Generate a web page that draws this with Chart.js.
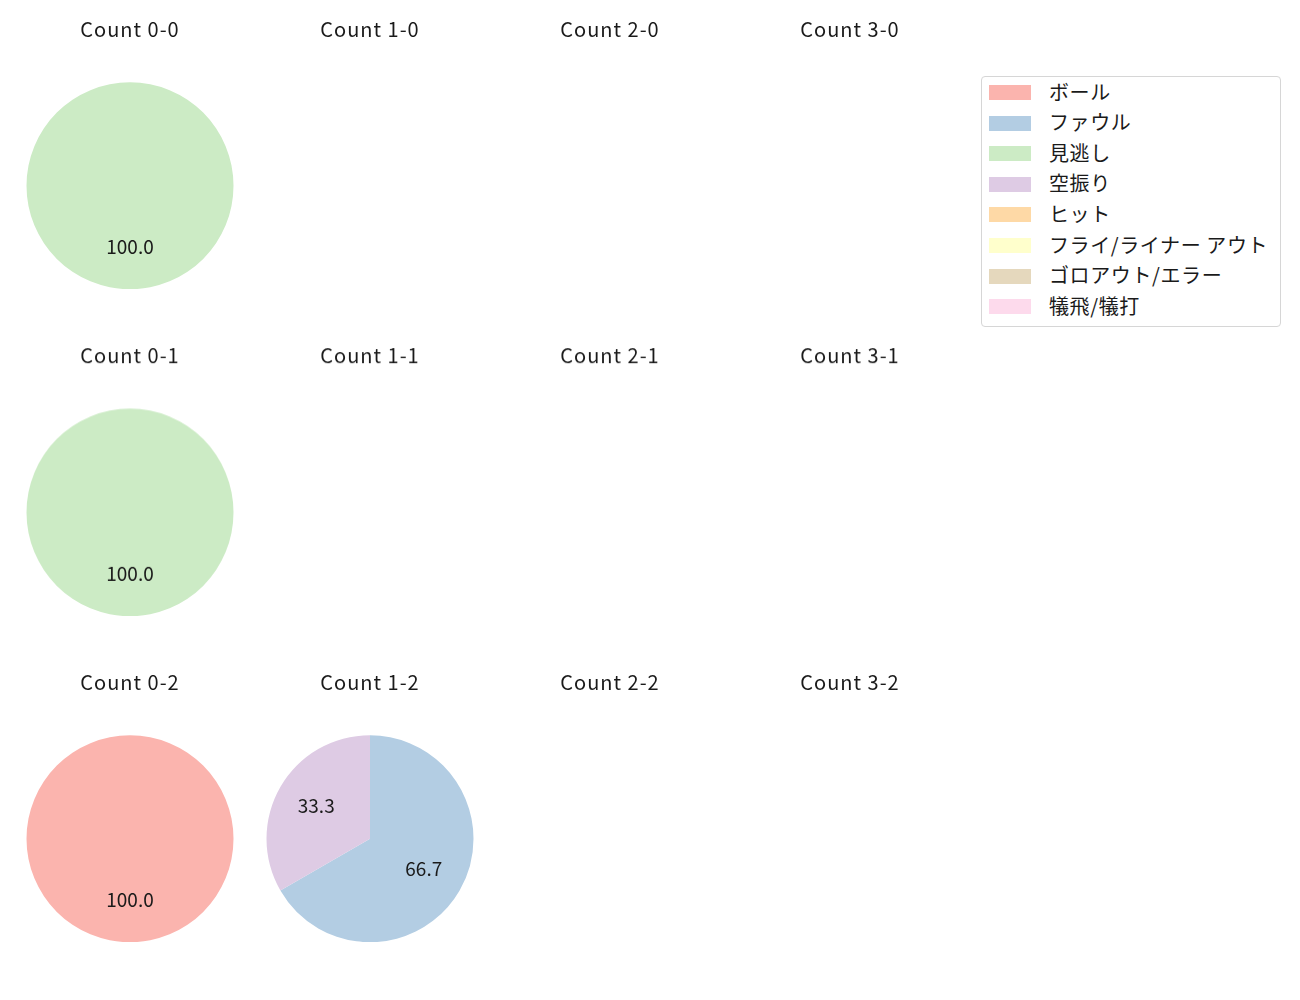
<!DOCTYPE html>
<html>
<head>
<meta charset="utf-8">
<script src="https://cdn.jsdelivr.net/npm/chart.js@4/dist/chart.umd.min.js"></script>
<style>
  html, body { margin: 0; padding: 0; background: #fff; }
  body { width: 1300px; height: 1000px; position: relative; overflow: hidden;
         font-family: "Noto Sans CJK JP", "Noto Sans", sans-serif; }
  .cell { position: absolute; }
  #legend { position: absolute; left: 981px; top: 76px; width: 300px; height: 251px;
            border: 1px solid #d6d6d6; border-radius: 4px; box-sizing: border-box; background: #fff; }
  .li { position: absolute; left: 0; height: 30px; width: 100%; }
  .sw { position: absolute; left: 7px; width: 42px; height: 15px; top: 7.5px; }
  .lt { position: absolute; left: 67px; top: -1px; font-size: 20px; line-height: 30px; color: #1a1a1a;
        white-space: nowrap; letter-spacing: 0.6px; }
</style>
</head>
<body>
<div id="legend"></div>
<script>
// ---- data ----
const categories = ['ボール', 'ファウル', '見逃し', '空振り', 'ヒット', 'フライ/ライナー アウト', 'ゴロアウト/エラー', '犠飛/犠打'];
const colors = ['#fbb4ae', '#b3cde3', '#ccebc5', '#decbe4', '#fed9a6', '#ffffcc', '#e5d8bd', '#fddaec'];
const countTitles = [
  ['Count 0-0', 'Count 1-0', 'Count 2-0', 'Count 3-0'],
  ['Count 0-1', 'Count 1-1', 'Count 2-1', 'Count 3-1'],
  ['Count 0-2', 'Count 1-2', 'Count 2-2', 'Count 3-2']
];
const count00 = [0, 0, 1, 0, 0, 0, 0, 0];
const count10 = [0, 0, 0, 0, 0, 0, 0, 0];
const count20 = [0, 0, 0, 0, 0, 0, 0, 0];
const count30 = [0, 0, 0, 0, 0, 0, 0, 0];
const count01 = [0, 0, 1, 0, 0, 0, 0, 0];
const count11 = [0, 0, 0, 0, 0, 0, 0, 0];
const count21 = [0, 0, 0, 0, 0, 0, 0, 0];
const count31 = [0, 0, 0, 0, 0, 0, 0, 0];
const count02 = [1, 0, 0, 0, 0, 0, 0, 0];
const count12 = [0, 2, 0, 1, 0, 0, 0, 0];
const count22 = [0, 0, 0, 0, 0, 0, 0, 0];
const count32 = [0, 0, 0, 0, 0, 0, 0, 0];
const grid = [
  [count00, count10, count20, count30],
  [count01, count11, count21, count31],
  [count02, count12, count22, count32]
];

// ---- layout ----
const colCenters = [129.7, 369.5, 609.5, 849.5];
const rowTops = [-0.5, 326.2, 652.9];
const FONT = '"Noto Sans CJK JP", "Noto Sans", sans-serif';

const spacing = {
  id: 'spacing',
  beforeDraw(chart) { chart.ctx.letterSpacing = '1px'; },
  beforeDatasetsDraw(chart) { chart.ctx.letterSpacing = '0px'; }
};

const pctLabels = {
  id: 'pctLabels',
  afterDatasetsDraw(chart) {
    const ctx = chart.ctx;
    const ds = chart.data.datasets[0].data;
    const total = ds.reduce((a, b) => a + b, 0);
    if (!total) return;
    const meta = chart.getDatasetMeta(0);
    ctx.save();
    ctx.font = '19px ' + FONT;
    ctx.fillStyle = '#1a1a1a';
    ctx.textAlign = 'center';
    ctx.textBaseline = 'middle';
    meta.data.forEach((arc, i) => {
      if (!ds[i]) return;
      const p = arc.getProps(['x', 'y', 'startAngle', 'endAngle', 'outerRadius'], true);
      const mid = (p.startAngle + p.endAngle) / 2;
      const r = p.outerRadius * 0.6;
      ctx.fillText((ds[i] / total * 100).toFixed(1), p.x + Math.cos(mid) * r, p.y + Math.sin(mid) * r - 1.5);
    });
    ctx.restore();
  }
};

grid.forEach((row, ri) => {
  row.forEach((vals, ci) => {
    const div = document.createElement('div');
    div.className = 'cell';
    div.style.left = (colCenters[ci] - 120) + 'px';
    div.style.top = rowTops[ri] + 'px';
    div.style.width = '240px';
    div.style.height = '289.5px';
    const cv = document.createElement('canvas');
    div.appendChild(cv);
    document.body.appendChild(div);
    new Chart(cv, {
      type: 'pie',
      data: {
        labels: categories,
        datasets: [{ data: vals, backgroundColor: colors, borderWidth: 0 }]
      },
      options: {
        responsive: true,
        maintainAspectRatio: false,
        animation: false,
        layout: { padding: { left: 16.5, right: 16.5, top: 0, bottom: 0 } },
        plugins: {
          legend: { display: false },
          tooltip: { enabled: false },
          title: {
            display: true,
            text: countTitles[ri][ci],
            color: '#1a1a1a',
            font: { family: FONT, size: 20, weight: 'normal', lineHeight: 1.2 },
            padding: { top: 17, bottom: 41 }
          }
        }
      },
      plugins: [spacing, pctLabels]
    });
  });
});

// legend
const leg = document.getElementById('legend');
categories.forEach((c, i) => {
  const li = document.createElement('div');
  li.className = 'li';
  li.style.top = (0.5 + i * 30.6) + 'px';
  const sw = document.createElement('div');
  sw.className = 'sw';
  sw.style.background = colors[i];
  const t = document.createElement('div');
  t.className = 'lt';
  t.textContent = c;
  li.appendChild(sw); li.appendChild(t);
  leg.appendChild(li);
});
</script>
</body>
</html>
